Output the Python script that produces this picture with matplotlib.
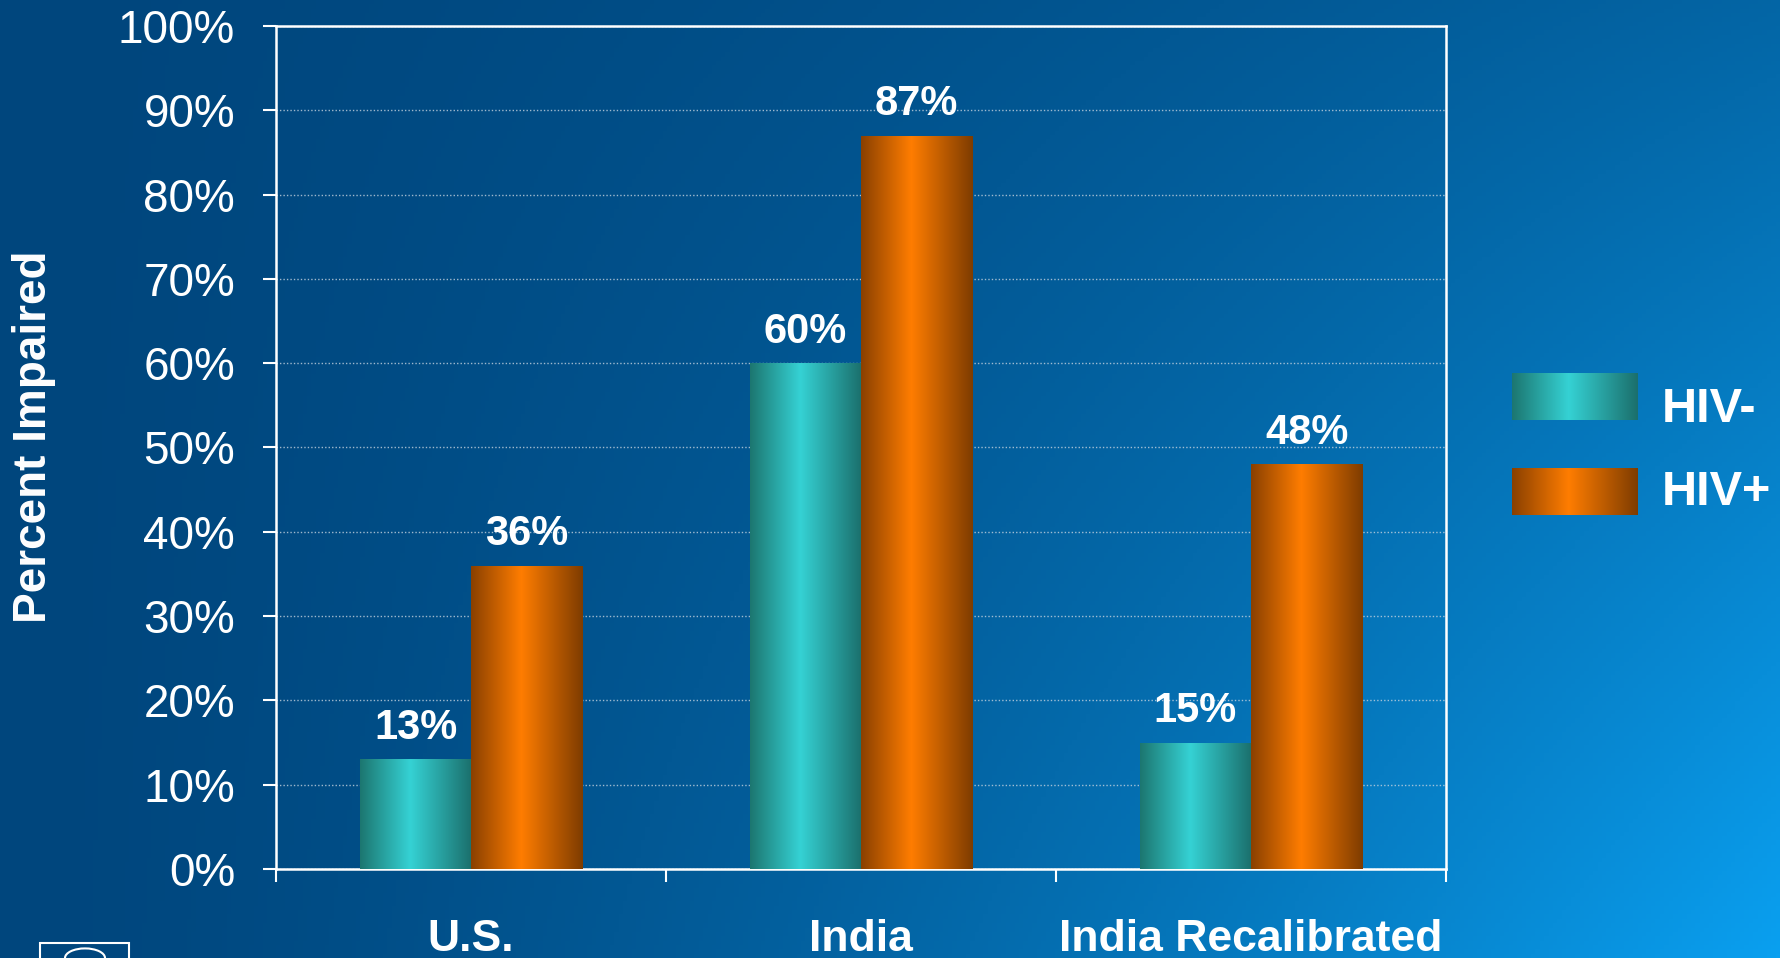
import matplotlib
matplotlib.use("Agg")
import matplotlib.pyplot as plt
import numpy as np
from matplotlib.patches import Rectangle, Ellipse
from matplotlib.colors import LinearSegmentedColormap

plt.rcParams['font.family'] = ['Liberation Sans', 'DejaVu Sans']

categories = ["U.S.", "India", "India Recalibrated"]
hiv_neg = [13, 60, 15]
hiv_pos = [36, 87, 48]
series_names = ["HIV-", "HIV+"]
y_ticks = [0, 10, 20, 30, 40, 50, 60, 70, 80, 90, 100]

teal = LinearSegmentedColormap.from_list(
    "teal", [(0, "#1c7670"), (0.45, "#35d2d4"), (1, "#1b6f6c")])
orange = LinearSegmentedColormap.from_list(
    "orange", [(0, "#8a4000"), (0.45, "#ff7d00"), (1, "#7e3c00")])

fig = plt.figure(figsize=(17.8, 9.58), dpi=100)

# background gradient
bg = fig.add_axes([0, 0, 1, 1], zorder=-10)
xx, yy = np.meshgrid(np.linspace(0, 1, 400), np.linspace(0, 1, 220))
t = np.clip(xx ** 1.5 * (0.35 + 0.65 * yy), 0, 1)
dark = np.array([0, 70, 125]) / 255
bright = np.array([10, 160, 240]) / 255
img = dark[None, None, :] * (1 - t[..., None]) + bright[None, None, :] * t[..., None]
bg.imshow(img, aspect='auto', extent=[0, 1, 0, 1], origin='upper')
bg.set_xlim(0, 1)
bg.set_ylim(0, 1)
bg.axis('off')

# logo box at bottom-left (partly cut off)
bg.add_patch(Rectangle((40 / 1780, -0.02), 89 / 1780, 0.036, fill=False,
                       edgecolor='white', lw=1.5))
bg.add_patch(Ellipse((85 / 1780, 0.0), 40 / 1780, 0.02, fill=False,
                     edgecolor='white', lw=1.5))

ax = fig.add_axes([0.1551, 0.0929, 0.6573, 0.880])
ax.set_facecolor('none')

x = np.arange(len(categories))
w = 0.285
grad = np.linspace(0, 1, 256)[None, :]


def gradient_bars(xpos, vals, cmap):
    bars = ax.bar(xpos, vals, w, color='none', edgecolor='none', zorder=3)
    for b in bars:
        x0, h = b.get_x(), b.get_height()
        im = ax.imshow(grad, cmap=cmap, aspect='auto',
                       extent=[x0, x0 + w, 0, h], zorder=3)
        im.set_clip_path(b)
        ax.annotate(f"{h:g}%", (x0 + w / 2, h), xytext=(0, 8),
                    textcoords='offset points', ha='center', va='bottom',
                    color='white', fontsize=30, fontweight='bold', zorder=5)
    return bars


gradient_bars(x - w / 2, hiv_neg, teal)
gradient_bars(x + w / 2, hiv_pos, orange)

ax.set_xlim(-0.5, len(categories) - 0.5)
ax.set_ylim(0, 100)

ax.set_yticks(y_ticks)
ax.set_yticklabels([f"{v}%" for v in y_ticks])
ax.tick_params(axis='y', colors='white', labelsize=33, length=9.5,
               width=1.5, pad=20, direction='out')
ax.set_xticks(x)
ax.set_xticklabels(categories, fontsize=32, fontweight='bold')
ax.tick_params(axis='x', which='major', length=0, pad=36, colors='white')
ax.set_xticks(np.arange(-0.5, len(categories), 1), minor=True)
ax.tick_params(axis='x', which='minor', length=9, width=1.5, colors='white',
               direction='out')

for s in ax.spines.values():
    s.set_color('white')
    s.set_linewidth(1.8)

ax.yaxis.grid(True, linestyle=(0, (1, 1.5)), color='#c8d4e0', lw=1.0, alpha=0.8)
ax.set_axisbelow(True)

fig.text(34 / 1780, 1 - 437 / 958, "Percent Impaired", color='white',
         fontsize=33, fontweight='bold', rotation=90, ha='center', va='center')

# legend with gradient swatches
leg_cmaps = [teal, orange]
leg_y = [373, 468]
leg_base = [422, 505]
for name, cmap, ytop, yb in zip(series_names, leg_cmaps, leg_y, leg_base):
    lax = fig.add_axes([1512 / 1780, 1 - (ytop + 47) / 958, 126 / 1780, 47 / 958])
    lax.imshow(grad, cmap=cmap, aspect='auto')
    lax.axis('off')
    fig.text(1662 / 1780, 1 - yb / 958, name, color='white',
             fontsize=35, fontweight='bold', ha='left', va='baseline')

fig.savefig("out.png", dpi=100)
